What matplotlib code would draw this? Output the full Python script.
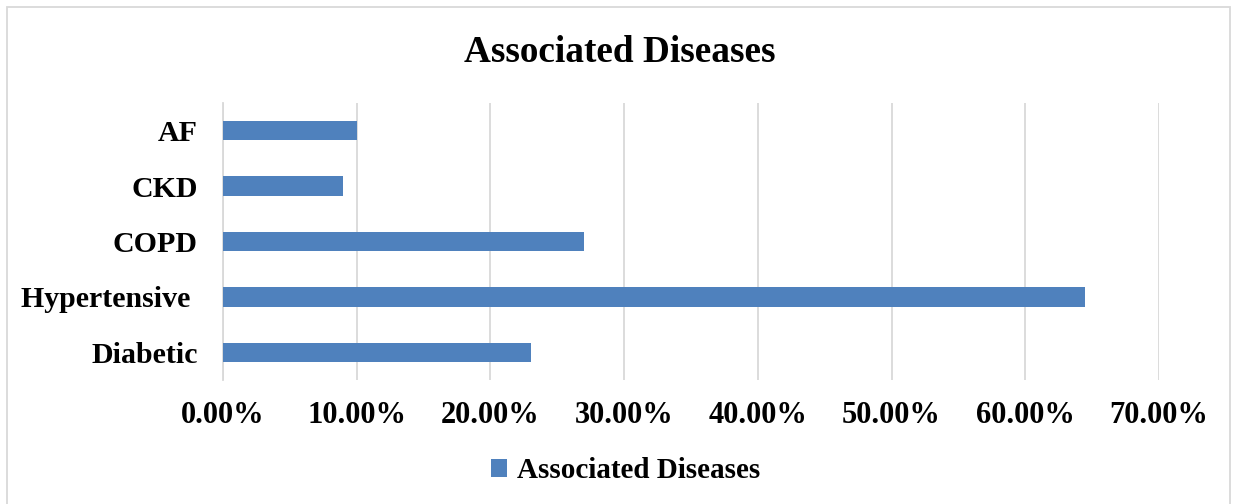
import matplotlib
matplotlib.use("Agg")
from matplotlib import pyplot as plt
from matplotlib.patches import Rectangle
from matplotlib.ticker import FuncFormatter

# datos
categorias = ["Diabetic", "Hypertensive ", "COPD", "CKD", "AF"]
valores = [0.23, 0.645, 0.27, 0.09, 0.10]
serie = "Associated Diseases"
azul = "#4F81BD"

plt.rcParams["font.family"] = ["Liberation Serif", "DejaVu Serif"]
plt.rcParams["font.weight"] = "bold"

fig = plt.figure(figsize=(12.34, 5.04), dpi=100)
ax = fig.add_axes([0.1807, 0.246, 0.7585, 0.5496])

ax.barh(range(len(categorias)), valores, height=0.35, color=azul, label=serie, zorder=3)
ax.set_xlim(0, 0.7)
ax.set_ylim(-0.5, len(categorias) - 0.5)
ax.set_xticks([i / 10 for i in range(8)])
ax.xaxis.set_major_formatter(FuncFormatter(lambda v, p: "%.2f%%" % (v * 100)))
ax.set_yticks(range(len(categorias)))
ax.set_yticklabels(categorias)
ax.tick_params(axis="y", length=0, labelsize=21.5, pad=18)
ax.tick_params(axis="x", length=0, labelsize=22, pad=15)
ax.grid(axis="x", color="#d9d9d9", linewidth=1.3, zorder=0)
for s in ["top", "right", "bottom"]:
    ax.spines[s].set_visible(False)
ax.spines["left"].set_color("#d9d9d9")
ax.spines["left"].set_linewidth(1.3)
for t in ax.get_xticklabels() + ax.get_yticklabels():
    t.set_fontweight("bold")

fig.text(0.5025, 0.896, serie, ha="center", va="center", fontsize=26.8, fontweight="bold")

fig.legend(loc="center", bbox_to_anchor=(0.507, 0.066), frameon=False,
           prop={"weight": "bold", "size": 21}, handlelength=0.55, handleheight=0.55, handletextpad=0.35)

# borde exterior
fig.patches.append(Rectangle((7 / 1234, -0.01), 1223 / 1234, 1 - 7 / 504 + 0.01,
                             transform=fig.transFigure, fill=False, edgecolor="#d9d9d9", linewidth=1.3))

fig.savefig("out.png", dpi=100)
